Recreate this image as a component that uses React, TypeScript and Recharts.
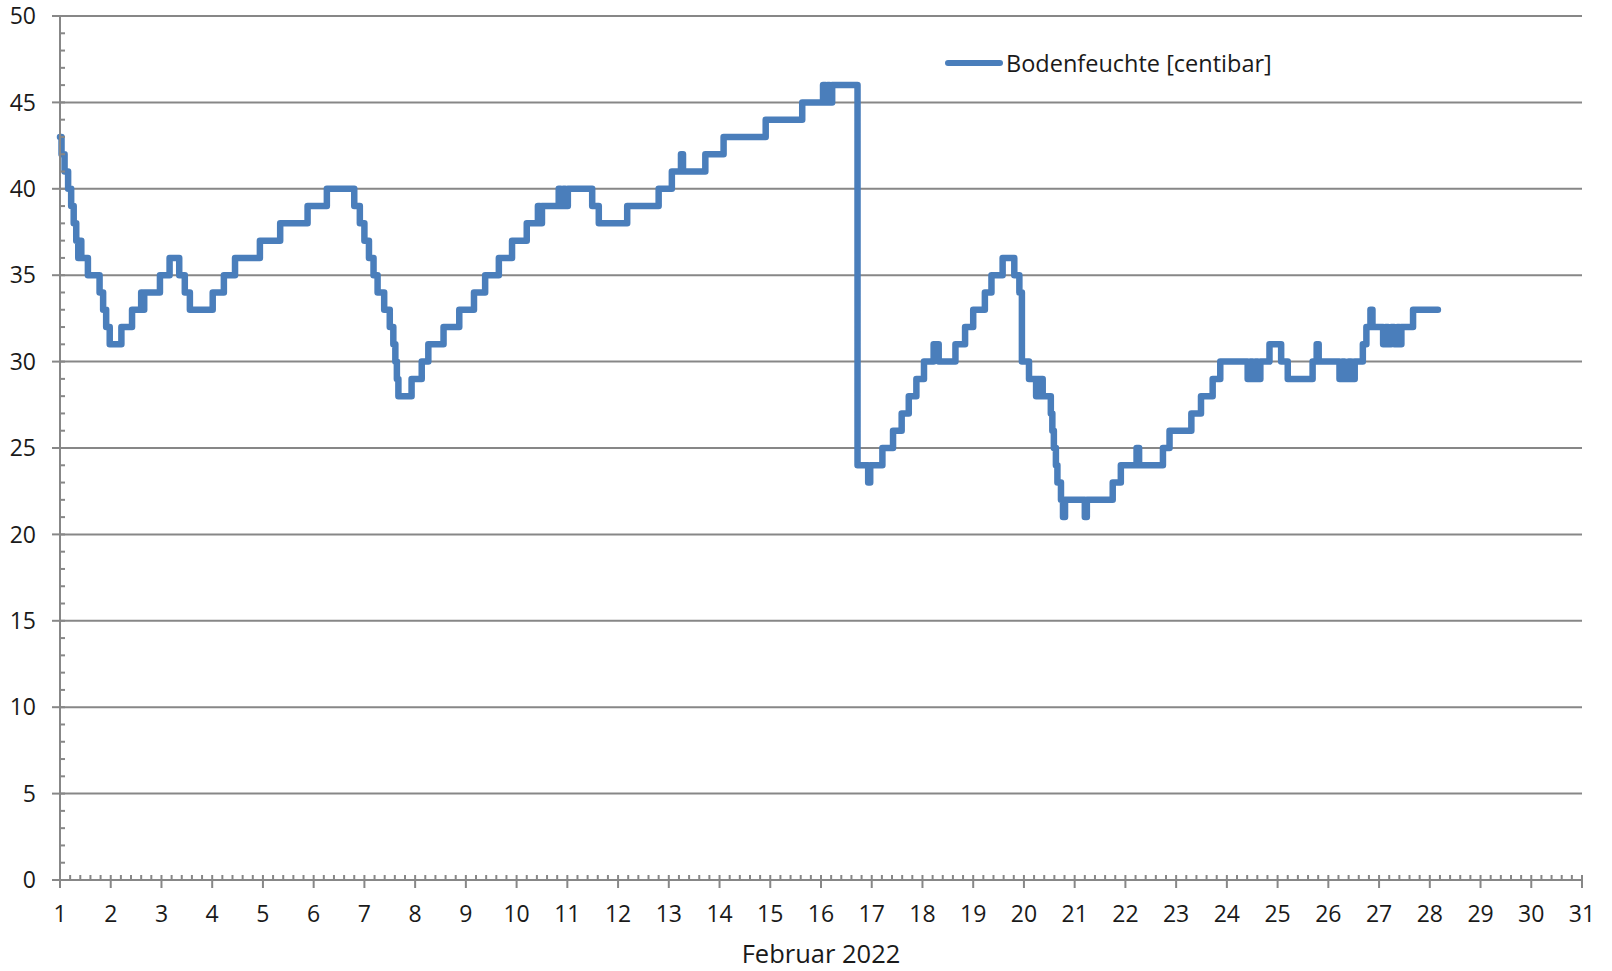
import { LineChart, Line, XAxis, YAxis, CartesianGrid, Legend } from 'recharts'

// start day of each level (Feb 2022, day 1 = 1 Feb 00:00) and the reading from then on
const days = [
    1.0, 1.03, 1.09, 1.16, 1.22, 1.27, 1.32, 1.36, 1.39, 1.42,
    1.55, 1.78, 1.85, 1.91, 1.98, 2.21, 2.42, 2.6, 2.63, 2.66,
    2.97, 3.16, 3.35, 3.46, 3.56, 4.01, 4.23, 4.45, 4.94, 5.34,
    5.88, 6.26,
    6.8, 6.91, 7.0, 7.09, 7.18, 7.26, 7.39, 7.5, 7.57, 7.61,
    7.64, 7.67, 7.93, 8.13, 8.26, 8.56, 8.87, 9.16, 9.38, 9.65,
    9.91, 10.2, 10.42, 10.46, 10.5, 10.83, 10.87, 10.92, 10.96, 11.01,
    11.49, 11.62,
    12.18, 12.8, 13.06, 13.24, 13.28, 13.72, 14.08, 14.91, 15.63, 16.04,
    16.09, 16.13, 16.17, 16.22, 16.72, 16.93, 16.97, 17.21, 17.42, 17.59,
    17.73, 17.88, 18.03, 18.22, 18.32, 18.65, 18.84, 19.0, 19.23, 19.36,
    19.58, 19.81, 19.91, 19.96,
    20.1, 20.24, 20.27, 20.3, 20.33, 20.37, 20.53, 20.56, 20.59, 20.63,
    20.66, 20.73, 20.77, 20.81, 21.2, 21.24, 21.75, 21.91, 22.22, 22.27,
    22.74, 22.87, 23.3, 23.49, 23.72, 23.87,
    24.41, 24.46, 24.51, 24.56, 24.61, 24.66, 24.84, 25.07, 25.2, 25.69,
    25.77, 25.81, 26.22, 26.27, 26.32, 26.4, 26.45, 26.52, 26.68, 26.75,
    26.83, 26.87, 27.08, 27.13, 27.18, 27.24, 27.3, 27.36, 27.4, 27.44,
    27.67, 28.16,
]

const soilMoisture = [
    43, 42, 41, 40, 39, 38, 37, 36, 37, 36,
    35, 34, 33, 32, 31, 32, 33, 34, 33, 34,
    35, 36, 35, 34, 33, 34, 35, 36, 37, 38,
    39, 40,
    39, 38, 37, 36, 35, 34, 33, 32, 31, 30,
    29, 28, 29, 30, 31, 32, 33, 34, 35, 36,
    37, 38, 39, 38, 39, 40, 39, 40, 39, 40,
    39, 38,
    39, 40, 41, 42, 41, 42, 43, 44, 45, 46,
    45, 46, 45, 46, 24, 23, 24, 25, 26, 27,
    28, 29, 30, 31, 30, 31, 32, 33, 34, 35,
    36, 35, 34, 30,
    29, 28, 29, 28, 29, 28, 27, 26, 25, 24,
    23, 22, 21, 22, 21, 22, 23, 24, 25, 24,
    25, 26, 27, 28, 29, 30,
    29, 30, 29, 30, 29, 30, 31, 30, 29, 30,
    31, 30, 29, 30, 29, 30, 29, 30, 31, 32,
    33, 32, 31, 32, 31, 32, 31, 32, 31, 32,
    33, 33,
]

const valueTicks = [0, 5, 10, 15, 20, 25, 30, 35, 40, 45, 50]

// tick marks every 1/5 day and every 1 centibar; labels only on whole days / multiples of 5
const dayMarks = Array.from({ length: 151 }, (_, i) => 1 + i / 5)
const valueMarks = Array.from({ length: 51 }, (_, i) => i)

const seriesName = 'Bodenfeuchte [centibar]'
const axisTitle = 'Februar 2022'

const data = days.map((day, i) => ({ day, value: soilMoisture[i] }))

const GRAY = '#878787'
const BLUE = '#4a7ebb'
const FONT = "'Open Sans', sans-serif"
const TEXT = '#1a1a1a'

function DayTick({ x, y, payload }: any) {
    const v = payload.value
    const major = Math.abs(v - Math.round(v)) < 1e-6
    return (
        <g>
            <line x1={x} x2={x} y1={y - 5} y2={major ? y + 8 : y} stroke={GRAY} strokeWidth={2} />
            {major && (
                <text x={x} y={y + 26} dy="0.71em" textAnchor="middle" fontFamily={FONT} fontSize={23} fill={TEXT}>
                    {Math.round(v)}
                </text>
            )}
        </g>
    )
}

function ValueTick({ x, y, payload }: any) {
    const v = payload.value
    const major = v % 5 === 0
    return (
        <g>
            <line x1={major ? x - 8 : x} x2={x + 5} y1={y} y2={y} stroke={GRAY} strokeWidth={2} />
            {major && (
                <text x={x - 24} y={y} dy="0.36em" textAnchor="end" fontFamily={FONT} fontSize={23} fill={TEXT}>
                    {v}
                </text>
            )}
        </g>
    )
}

function LegendBox({ payload }: any) {
    const item = payload && payload[0]
    return (
        <div style={{ display: 'flex', alignItems: 'center', fontFamily: FONT, fontSize: 23.5, color: TEXT, whiteSpace: 'nowrap' }}>
            <svg width={58} height={8} style={{ marginRight: 3 }}>
                <line x1={3} y1={4} x2={55} y2={4} stroke={item ? item.color : BLUE} strokeWidth={6} strokeLinecap="round" />
            </svg>
            <span>{item ? item.value : seriesName}</span>
        </div>
    )
}

export default function App() {
    return (
        <div style={{ width: 1612, height: 971, background: '#fff' }}>
            <style>{'body{margin:0}'}</style>
            <LineChart width={1612} height={971} data={data} margin={{ top: 16, right: 30, bottom: 0, left: 0 }}>
                <CartesianGrid vertical={false} horizontalValues={valueTicks} stroke={GRAY} strokeWidth={2} />
                <XAxis
                    type="number"
                    dataKey="day"
                    domain={[1, 31]}
                    ticks={dayMarks}
                    interval={0}
                    height={91}
                    tickSize={0}
                    tickMargin={0}
                    axisLine={{ stroke: GRAY, strokeWidth: 2 }}
                    tickLine={false}
                    tick={DayTick}
                    label={{ value: axisTitle, position: 'insideBottom', offset: 8, style: { fontFamily: FONT, fontSize: 25.5, fill: TEXT, textAnchor: 'middle' } }}
                />
                <YAxis
                    type="number"
                    domain={[0, 50]}
                    ticks={valueMarks}
                    interval={0}
                    width={60}
                    tickSize={0}
                    tickMargin={0}
                    axisLine={{ stroke: GRAY, strokeWidth: 2 }}
                    tickLine={false}
                    tick={ValueTick}
                />
                <Legend
                    layout="vertical"
                    verticalAlign="middle"
                    align="center"
                    wrapperStyle={{ top: 47, left: 945, width: 'auto' }}
                    content={LegendBox}
                />
                <Line
                    type="stepAfter"
                    dataKey="value"
                    name={seriesName}
                    stroke={BLUE}
                    strokeWidth={6.5}
                    strokeLinejoin="round"
                    strokeLinecap="round"
                    dot={false}
                    activeDot={false}
                    isAnimationActive={false}
                />
            </LineChart>
        </div>
    )
}
